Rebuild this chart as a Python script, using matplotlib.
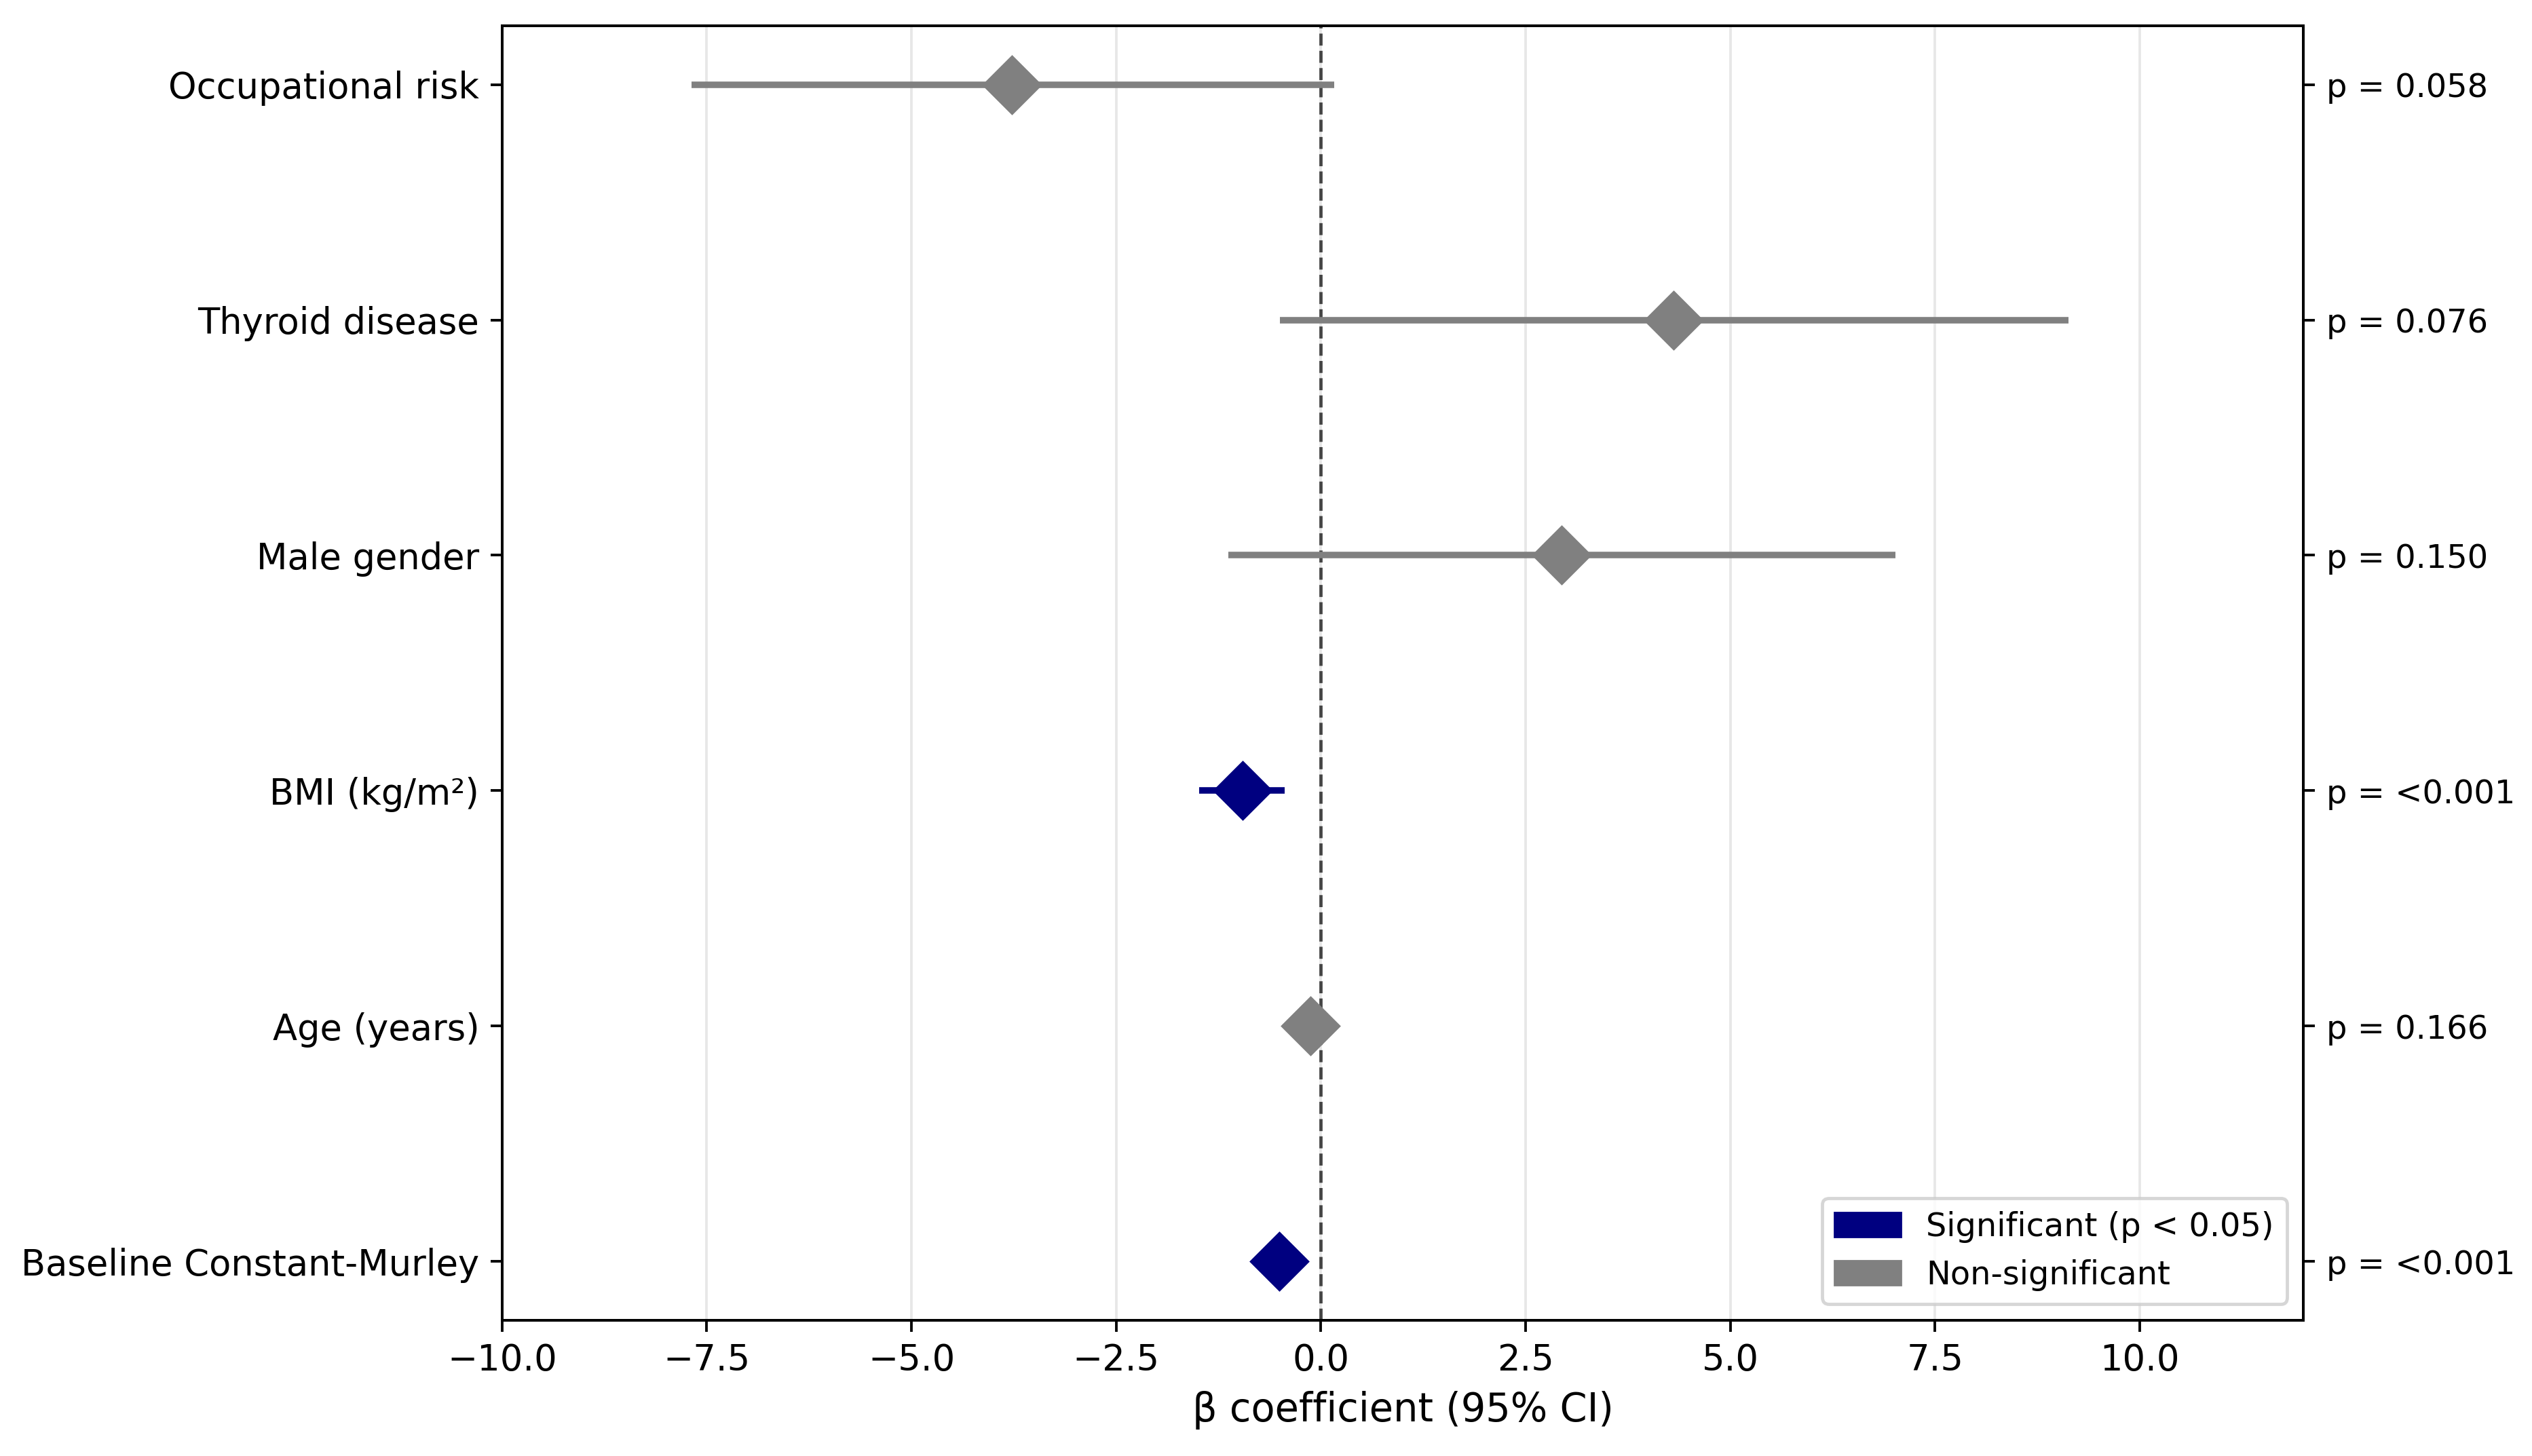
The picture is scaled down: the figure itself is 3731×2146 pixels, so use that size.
import matplotlib
matplotlib.use("Agg")
import matplotlib.pyplot as plt
from matplotlib.patches import Patch

# data, top row first
variables = ["Occupational risk", "Thyroid disease", "Male gender",
             "BMI (kg/m²)", "Age (years)", "Baseline Constant-Murley"]
beta = [-3.77, 4.31, 2.94, -0.96, -0.13, -0.51]
ci_low = [-7.69, -0.50, -1.13, -1.49, -0.22, -0.62]
ci_high = [0.16, 9.13, 7.02, -0.44, -0.04, -0.40]
p_text = ["0.058", "0.076", "0.150", "<0.001", "0.166", "<0.001"]

SIG_COLOR = "navy"
NS_COLOR = "gray"

dpi = 345
fig = plt.figure(figsize=(3731 / dpi, 2146 / dpi), dpi=dpi)
ax = fig.add_axes([0.1983, 0.0933, 0.9097 - 0.1983, 0.9823 - 0.0933])

n = len(variables)
ypos = [n - 1 - i for i in range(n)]

for i in range(n):
    sig = p_text[i].startswith("<") or float(p_text[i]) < 0.05
    col = SIG_COLOR if sig else NS_COLOR
    ax.errorbar(beta[i], ypos[i],
                xerr=[[beta[i] - ci_low[i]], [ci_high[i] - beta[i]]],
                fmt="D", color=col, ecolor=col, markersize=12,
                elinewidth=2, capsize=0, zorder=3)

ax.axvline(0, color="black", linestyle="--", linewidth=1, alpha=0.7)
ax.set_yticks(ypos)
ax.set_yticklabels(variables, fontsize=11)
ax.tick_params(axis="x", labelsize=11)
ax.set_xlim(-10, 12)
ax.set_ylim(-0.25, n - 0.75)
ax.set_xlabel("β coefficient (95% CI)", fontsize=12)
ax.grid(axis="x", alpha=0.3)
ax.set_axisbelow(True)

# p-values on the right
ax2 = ax.twinx()
ax2.set_ylim(ax.get_ylim())
ax2.set_yticks(ypos)
ax2.set_yticklabels(["p = " + p for p in p_text], fontsize=10)

handles = [Patch(color=SIG_COLOR, label="Significant (p < 0.05)"),
           Patch(color=NS_COLOR, label="Non-significant")]
ax.legend(handles=handles, loc="lower right")

fig.savefig("out.png", dpi=dpi)
